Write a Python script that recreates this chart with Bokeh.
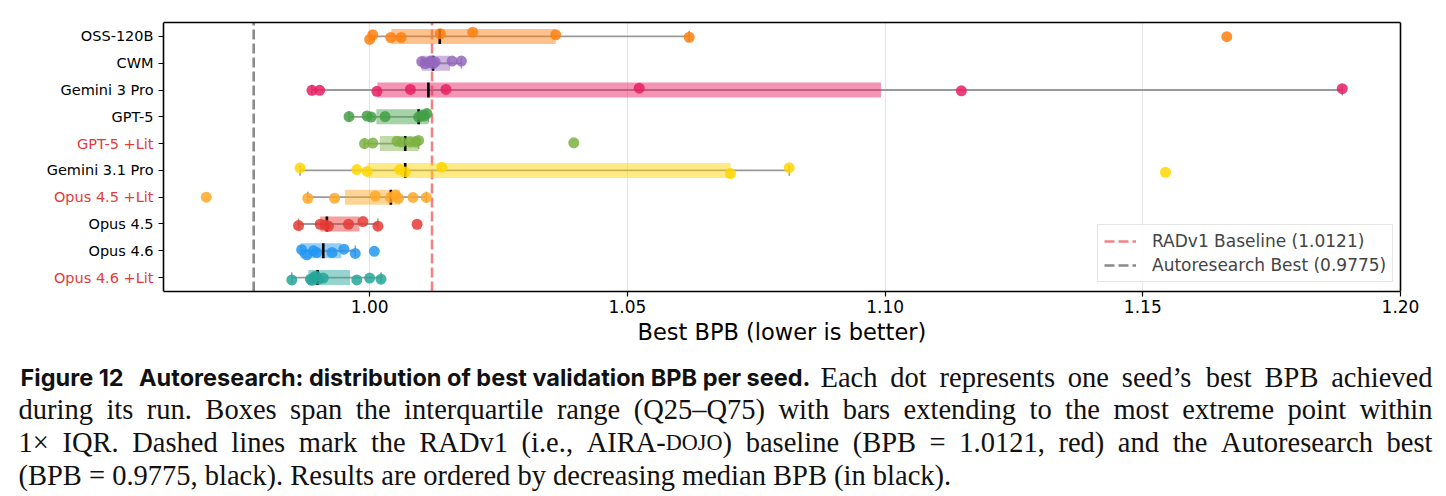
import numpy as np
from bokeh.plotting import figure
from bokeh.models import (Range1d, FixedTicker, Legend, LegendItem, LinearAxis,
                          NumeralTickFormatter, Title)
from bokeh.layouts import column
from bokeh.embed import file_html
from bokeh.resources import INLINE
from bokeh.core.properties import value

# ---------------- data (top row first) ----------------
models = ["OSS-120B", "CWM", "Gemini 3 Pro", "GPT-5", "GPT-5 +Lit",
          "Gemini 3.1 Pro", "Opus 4.5 +Lit", "Opus 4.5", "Opus 4.6", "Opus 4.6 +Lit"]
label_colors = ["black", "black", "black", "black", "#e23b3b",
                "black", "#e23b3b", "black", "black", "#e23b3b"]
colors = ["#ff7f0e", "#9467bd", "#e91e63", "#43a047", "#7cb342",
          "#ffd600", "#ffa726", "#e53935", "#2196f3", "#26a69a"]

q1 = [1.0042, 1.0101, 1.0015, 1.0013, 1.0020, 0.9995, 0.9952, 0.9904, 0.9866, 0.9881]
median = [1.0136, 1.0123, 1.0114, 1.0095, 1.0069, 1.0069, 1.0041, 0.9917, 0.9910, 0.9899]
q3 = [1.0361, 1.0156, 1.0992, 1.0114, 1.0095, 1.0700, 1.0059, 0.9980, 0.9945, 0.9962]
whisk_lo = [1.0000, 1.0101, 0.9888, 0.9960, 0.9990, 0.9865, 0.9880, 0.9862, 0.9866, 0.9849]
whisk_hi = [1.0620, 1.0178, 1.1887, 1.0114, 1.0095, 1.0814, 1.0110, 1.0016, 0.9972, 1.0022]

pts_oss = [1.0000, 1.0006, 1.0041, 1.0061, 1.0137, 1.0200, 1.0361, 1.0620, 1.1663]
jit_oss = [-0.11, 0.06, -0.04, -0.04, 0.10, 0.16, 0.06, -0.03, -0.01]
pts_cwm = [1.0101, 1.0108, 1.0114, 1.0119, 1.0123, 1.0127, 1.0160, 1.0178]
jit_cwm = [0.06, -0.01, 0.03, 0.08, -0.01, 0.05, 0.08, 0.08]
pts_gem3 = [0.9888, 0.9903, 1.0014, 1.0079, 1.0148, 1.0523, 1.1148, 1.1887]
jit_gem3 = [-0.01, -0.01, -0.05, 0.02, 0.02, 0.07, -0.03, 0.05]
pts_gpt5 = [0.9960, 0.9995, 1.0003, 1.0030, 1.0095, 1.0101, 1.0106, 1.0111]
jit_gpt5 = [0.01, 0.03, -0.01, 0.01, -0.01, 0.05, 0.03, 0.12]
pts_gpt5l = [0.9990, 1.0006, 1.0053, 1.0062, 1.0079, 1.0090, 1.0095, 1.0396]
jit_gpt5l = [0.00, 0.02, 0.09, 0.06, 0.06, 0.06, 0.12, 0.03]
pts_gem31 = [0.9865, 0.9975, 0.9995, 1.0058, 1.0069, 1.0140, 1.0700, 1.0814, 1.1544]
jit_gem31 = [0.09, 0.03, -0.04, 0.03, -0.06, 0.12, -0.12, 0.10, -0.07]
pts_op45l = [0.9683, 0.9880, 0.9932, 1.0011, 1.0040, 1.0050, 1.0056, 1.0084, 1.0110]
jit_op45l = [0.00, -0.04, -0.04, 0.04, -0.01, 0.08, -0.04, -0.01, -0.01]
pts_op45 = [0.9862, 0.9904, 0.9914, 0.9920, 0.9959, 0.9987, 1.0016, 1.0092]
jit_op45 = [-0.06, -0.01, -0.04, -0.08, -0.01, 0.09, -0.08, -0.01]
pts_op46 = [0.9868, 0.9878, 0.9891, 0.9897, 0.9927, 0.9950, 0.9972, 1.0009]
jit_op46 = [0.04, -0.15, 0.00, -0.06, -0.06, 0.06, -0.10, -0.02]
pts_op46l = [0.9849, 0.9885, 0.9888, 0.9893, 0.9896, 0.9901, 0.9910, 0.9975, 1.0000, 1.0022]
jit_op46l = [-0.09, -0.06, -0.10, 0.03, 0.05, -0.06, -0.02, -0.09, -0.02, -0.06]

points = [pts_oss, pts_cwm, pts_gem3, pts_gpt5, pts_gpt5l, pts_gem31,
          pts_op45l, pts_op45, pts_op46, pts_op46l]
jitters = [jit_oss, jit_cwm, jit_gem3, jit_gpt5, jit_gpt5l, jit_gem31,
           jit_op45l, jit_op45, jit_op46, jit_op46l]

radv1_baseline = 1.0121
autoresearch_best = 0.9775
x_ticks = [1.00, 1.05, 1.10, 1.15, 1.20]
x_lo, x_hi = 0.96, 1.20
x_label = "Best BPB (lower is better)"

caption_bold = "Figure 12\u2002\u2009Autoresearch: distribution of best validation BPB per seed."
caption_lines = [
    "Each dot represents one seed\u2019s best BPB achieved",
    "during its run. Boxes span the interquartile range (Q25\u2013Q75) with bars extending to the most extreme point within",
    "1\u00d7 IQR. Dashed lines mark the RADv1 (i.e., AIRA-[dojo]) baseline (BPB = 1.0121, red) and the Autoresearch best",
    "(BPB = 0.9775, black). Results are ordered by decreasing median BPB (in black).",
]

# ---------------- figure ----------------
W = 1446
n = len(models)
rows = [n - 1 - i for i in range(n)]  # top model has the highest y
y_lo, y_hi = -0.52, n - 0.48

# the frame spans the full page width so the category names can sit left of the spine
px_per_unit = 1237.0 / (x_hi - x_lo)
left_px, right_px = 163, 46
p = figure(frame_width=W, frame_height=269, min_border_left=0, min_border_right=0,
           min_border_top=22, min_border_bottom=54,
           x_range=Range1d(x_lo - left_px / px_per_unit, x_hi + right_px / px_per_unit),
           y_range=Range1d(y_lo, y_hi),
           output_backend="svg", toolbar_location=None, background_fill_color="white")
p.outline_line_color = None
p.ygrid.grid_line_color = None
p.xgrid.grid_line_color = "#e6e6e6"
p.xgrid.grid_line_width = 1
p.xgrid.ticker = FixedTicker(ticks=x_ticks)

p.xaxis.bounds = (x_lo, x_hi)
p.xaxis.ticker = FixedTicker(ticks=x_ticks)
p.xaxis.formatter = NumeralTickFormatter(format="0.00")
p.xaxis.minor_tick_line_color = None
p.xaxis.major_tick_in = 0
p.xaxis.major_tick_out = 5
p.xaxis.major_tick_line_width = 1.2
p.xaxis.axis_line_width = 1.6
p.xaxis.major_label_text_font = "DejaVu Sans"
p.xaxis.major_label_text_font_size = "17px"
p.xaxis.major_label_text_color = "black"
p.xaxis.major_label_standoff = 3

# axis title placed under the plotting box (not the full-width frame)
p.add_layout(Title(text=x_label, align="left", offset=637, standoff=2,
                   text_font="DejaVu Sans", text_font_size="22.5px", text_font_style="normal",
                   text_color="black"), "below")

p.yaxis.fixed_location = x_lo
p.yaxis.bounds = (y_lo, y_hi)
p.yaxis.ticker = FixedTicker(ticks=rows)
p.yaxis.major_label_overrides = {r: "" for r in rows}
p.yaxis.minor_tick_line_color = None
p.yaxis.major_tick_in = 0
p.yaxis.major_tick_out = 5
p.yaxis.major_tick_line_width = 1.2
p.yaxis.axis_line_width = 1.6

top_ax = LinearAxis(bounds=(x_lo, x_hi), major_tick_in=0, major_tick_out=0,
                    minor_tick_line_color=None, major_label_text_font_size="0px",
                    axis_line_width=1.6, ticker=FixedTicker(ticks=[]))
p.add_layout(top_ax, "above")
right_ax = LinearAxis(fixed_location=x_hi, bounds=(y_lo, y_hi), major_tick_in=0, major_tick_out=0,
                      minor_tick_line_color=None, major_label_text_font_size="0px",
                      axis_line_width=1.6, ticker=FixedTicker(ticks=[]))
p.add_layout(right_ax, "right")

r_red = p.line(x=[radv1_baseline, radv1_baseline], y=[y_lo, y_hi], line_color="#f08484",
               line_width=2.6, line_dash="10 4")
r_gray = p.line(x=[autoresearch_best, autoresearch_best], y=[y_lo, y_hi], line_color="#8a8a8a",
                line_width=2.6, line_dash="10 4")

box_h = 0.56
cap_h = 0.2
for i in range(n):
    y = rows[i]
    c = colors[i]
    p.segment(x0=[whisk_lo[i]], y0=[y], x1=[whisk_hi[i]], y1=[y], line_color="#9a9a9a", line_width=1.8)
    p.segment(x0=[whisk_lo[i], whisk_hi[i]], y0=[y - cap_h] * 2, x1=[whisk_lo[i], whisk_hi[i]],
              y1=[y + cap_h] * 2, line_color="#9a9a9a", line_width=1.5)
    p.hbar(y=[y], left=[q1[i]], right=[q3[i]], height=box_h, fill_color=c, fill_alpha=0.48,
           line_color=None)
    p.segment(x0=[median[i]], y0=[y - box_h / 2], x1=[median[i]], y1=[y + box_h / 2],
              line_color="black", line_width=2.6)
    ys = [y + j for j in jitters[i]]
    p.scatter(x=points[i], y=ys, size=11, fill_color=c, fill_alpha=0.85, line_color=None)

p.text(x=[x_lo] * n, y=rows, text=models, x_offset=-10, text_align="right",
       text_baseline="middle", text_font=value("DejaVu Sans"), text_font_size="14.5px",
       text_color=label_colors)

legend = Legend(items=[LegendItem(label="RADv1 Baseline (1.0121)", renderers=[r_red]),
                       LegendItem(label="Autoresearch Best (0.9775)", renderers=[r_gray])],
                location=(1097, 9), margin=0, padding=6, spacing=4,
                glyph_width=32, glyph_height=20, label_height=20, label_standoff=16,
                label_text_font="DejaVu Sans", label_text_font_size="17px",
                border_line_color="#cccccc", border_line_width=1,
                background_fill_alpha=0.85)
p.add_layout(legend)

# ---------------- caption (justified, Times metrics) ----------------
H = 151
top = 345
cap = figure(frame_width=W, frame_height=H, min_border=0, x_range=Range1d(0, W),
             y_range=Range1d(H, 0), output_backend="svg", toolbar_location=None)
cap.axis.visible = False
cap.grid.visible = False
cap.outline_line_color = None

TIMES = {' ': 250, '.': 250, ',': 250, '(': 333, ')': 333, '\u2013': 500, '=': 564, '\u00d7': 564,
         '\u2019': 333, '-': 333, ':': 278}
TIMES.update({c: w for c, w in zip("abcdefghijklmnopqrstuvwxyz",
              [444, 500, 444, 500, 444, 333, 500, 500, 278, 278, 500, 278, 778, 500, 500, 500, 500,
               333, 389, 278, 500, 500, 722, 500, 500, 444])})
TIMES.update({c: w for c, w in zip("ABCDEFGHIJKLMNOPQRSTUVWXYZ",
              [722, 667, 667, 722, 611, 556, 722, 722, 333, 389, 722, 611, 889, 722, 722, 556, 722,
               667, 556, 611, 722, 722, 944, 722, 722, 611])})
TIMES.update({c: 500 for c in "0123456789"})

serif_px = 28.5
sc_scale = 0.78  # small caps


def runs_of(word):
    out = []
    buf = ""
    i = 0
    while i < len(word):
        if word[i] == "[":
            if buf:
                out.append((buf, 1.0))
            j = word.index("]", i)
            out.append((word[i + 1:j].upper(), sc_scale))
            buf = ""
            i = j + 1
        else:
            buf += word[i]
            i += 1
    if buf:
        out.append((buf, 1.0))
    return out


def width_of(runs):
    return sum(TIMES.get(ch, 500) * s for t, s in runs for ch in t) / 1000.0 * serif_px


cx, cy, ct, cs = [], [], [], []


def place_line(line, x0, x1, base, justify):
    words = [runs_of(w) for w in line.split(" ")]
    widths = [width_of(r) for r in words]
    natural_gap = TIMES[' '] / 1000.0 * serif_px
    gap = (x1 - x0 - sum(widths)) / (len(words) - 1) if justify else natural_gap
    x = x0
    for r, w in zip(words, widths):
        xx = x
        for t, s in r:
            cx.append(xx); cy.append(base); ct.append(t); cs.append(f"{serif_px * s:.1f}px")
            xx += width_of([(t, s)])
        x += w + gap


left_x, right_x = 18, 1432
bold_end = 820
baselines = [376.7 - top, 409.3 - top, 442.3 - top, 475.0 - top]
place_line(caption_lines[0], bold_end, right_x, baselines[0], True)
place_line(caption_lines[1], left_x, right_x, baselines[1], True)
place_line(caption_lines[2], left_x, right_x, baselines[2], True)
place_line(caption_lines[3], left_x, right_x, baselines[3], False)

cap.text(x=[left_x + 2], y=[baselines[0]], text=[caption_bold], text_font=value("Inter"),
         text_font_style="bold", text_font_size="23.5px", text_baseline="alphabetic",
         text_align="left", text_color="#111111")
cap.text(x=cx, y=cy, text=ct, text_font_size=cs, text_font=value("Liberation Serif"),
         text_baseline="alphabetic", text_align="left", text_color="#111111")

layout = column(p, cap, spacing=0)
open("out.html", "w").write(file_html(layout, INLINE))
